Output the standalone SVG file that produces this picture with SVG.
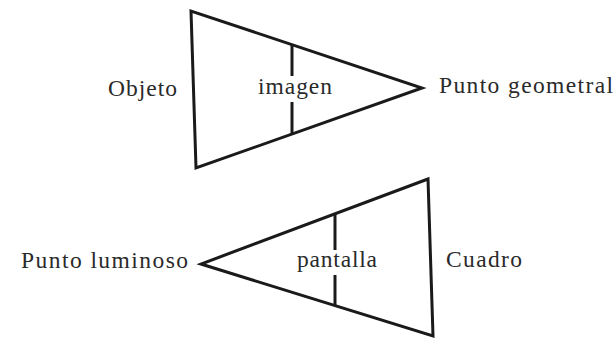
<svg xmlns="http://www.w3.org/2000/svg" width="616" height="339" viewBox="0 0 616 339">
<style>
.ln{fill:none;stroke:#1a1a1a;stroke-width:3;stroke-linejoin:miter;stroke-linecap:butt}
.t{font-family:"Liberation Serif","DejaVu Serif",serif;font-size:23.5px;fill:#2a2a2a}
</style>
<rect width="616" height="339" fill="#ffffff"/>
<g id="top-triangle">
<polygon class="ln" points="191,11 196,168 422,88"/>
<line class="ln" x1="292" y1="45" x2="292" y2="76"/>
<line class="ln" x1="292" y1="102" x2="292" y2="134"/>
</g>
<g id="bottom-triangle">
<polygon class="ln" points="428,179 433,336 201,264"/>
<line class="ln" x1="335" y1="214" x2="335" y2="250"/>
<line class="ln" x1="335" y1="275" x2="335" y2="306"/>
</g>
<g id="labels">
<text class="t" x="108" y="96" textLength="69" lengthAdjust="spacing">Objeto</text>
<text class="t" x="258" y="94" textLength="74" lengthAdjust="spacing">imagen</text>
<text class="t" x="439" y="93" textLength="174" lengthAdjust="spacing">Punto geometral</text>
<text class="t" x="21" y="268" textLength="167" lengthAdjust="spacing">Punto luminoso</text>
<text class="t" x="297" y="267" textLength="80" lengthAdjust="spacing">pantalla</text>
<text class="t" x="446" y="267" textLength="76" lengthAdjust="spacing">Cuadro</text>
</g>
</svg>
